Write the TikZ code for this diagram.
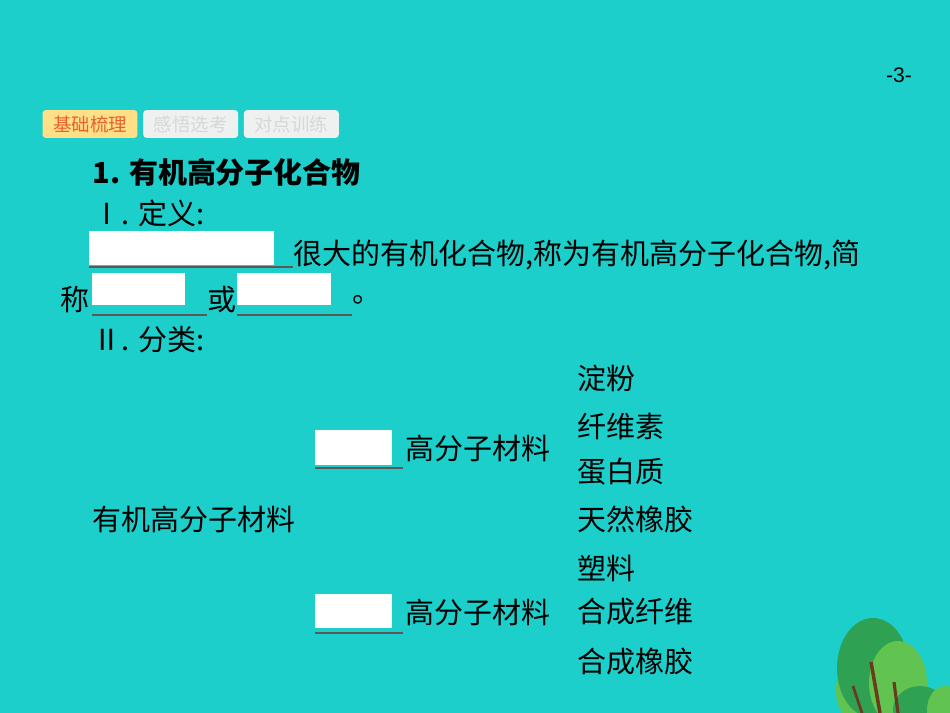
\documentclass[tikz,border=0pt]{standalone}
\usepackage{fontspec}
\setmainfont{Liberation Sans}
\newfontfamily\cjk{Noto Sans CJK SC}
\usetikzlibrary{positioning}
\definecolor{bgteal}{HTML}{1DCFCB}
\definecolor{tabyellow}{HTML}{FFDF87}
\definecolor{taborange}{HTML}{E8612C}
\definecolor{tabgrey}{HTML}{EFF1F1}
\definecolor{tabtext}{HTML}{D5D8D8}
\definecolor{leafA}{HTML}{2EA152}
\definecolor{leafB}{HTML}{62C450}
\definecolor{trunk}{HTML}{6B3A1E}
\tikzset{
  tabbox/.style={rounded corners=2pt, minimum width=1.9cm, minimum height=0.56cm, inner sep=0pt, font=\cjk\fontsize{10.5}{10.5}\selectfont},
  txt/.style={anchor=west, inner sep=0pt, font=\cjk\fontsize{16.5}{16.5}\selectfont},
  blank/.style={fill=white, inner sep=0pt, anchor=north west},
  uline/.style={draw=gray!70!black, line width=0.8pt}
}
\begin{document}
\begin{tikzpicture}[x=0.02cm, y=-0.02cm]
        % Background
        \fill[bgteal] (0,0) rectangle (950,713);
        \useasboundingbox (0,0) rectangle (950,713);
        \node (page) [inner sep=0pt, font=\fontsize{12}{12}\selectfont] at (899,75) {-3-};

        % Tabs
        \node (tab1) [tabbox, fill=tabyellow, text=taborange] at (90,124) {基础梳理};
        \node (tab2) [tabbox, fill=tabgrey, text=tabtext, right=0.1cm of tab1] {感悟选考};
        \node (tab3) [tabbox, fill=tabgrey, text=tabtext, right=0.1cm of tab2] {对点训练};

        % Definition
        \node (title) [txt, font=\cjk\bfseries\fontsize{16.5}{16.5}\selectfont] at (92,172) {1. 有机高分子化合物};
        \node (def) [txt] at (92,213) {Ⅰ. 定义:};
        \node (box1) [blank, minimum width=3.7cm, minimum height=0.68cm] at (89,231) {};
        \draw[uline] (89,267) -- (293,267);
        \node (line3) [txt] at (293,255) {很大的有机化合物,称为有机高分子化合物,简};
        \node (cheng) [txt] at (60,300) {称};
        \node (box2) [blank, minimum width=1.86cm, minimum height=0.64cm] at (92,273) {};
        \draw[uline] (92,315) -- (207,315);
        \node (huo) [txt] at (207,300) {或};
        \node (box3) [blank, minimum width=1.88cm, minimum height=0.64cm] at (237,273) {};
        \draw[uline] (237,315) -- (352,315);
        \node (dot) [txt] at (352,300) {。};
        \node (cls) [txt] at (92,340) {Ⅱ. 分类:};

        % Classification
        \node (organic) [txt] at (92,519) {有机高分子材料};
        \node (nbox) [blank, minimum width=1.54cm, minimum height=0.7cm] at (315,430) {};
        \draw[uline] (315,468) -- (403,468);
        \node (natural) [txt] at (405,448) {高分子材料};
        \node (sbox) [blank, minimum width=1.54cm, minimum height=0.68cm] at (315,594) {};
        \draw[uline] (315,633) -- (403,633);
        \node (synth) [txt] at (405,612) {高分子材料};
        \foreach \name/\y/\t in {n1/378/淀粉, n2/426/纤维素, n3/472/蛋白质, n4/519/天然橡胶, s1/568/塑料, s2/612/合成纤维, s3/662/合成橡胶}
          \node (\name) [txt] at (577,\y) {\t};

        % Trees
        \fill[leafB] (858,690) ellipse (22 and 33);
        \fill[leafA] (873,668) ellipse (36 and 50);
        \fill[leafB] (898,683) ellipse (29 and 42);
        \fill[leafA] (920,710) ellipse (27 and 24);
        \fill[leafB] (945,710) ellipse (18 and 24);
        \draw[trunk, line width=2pt] (880,713) -- (871,662);
        \draw[trunk, line width=1.8pt] (898,713) -- (894,682);
        \draw[trunk, line width=1.6pt] (862,713) -- (853,686);
\end{tikzpicture}
\end{document}
